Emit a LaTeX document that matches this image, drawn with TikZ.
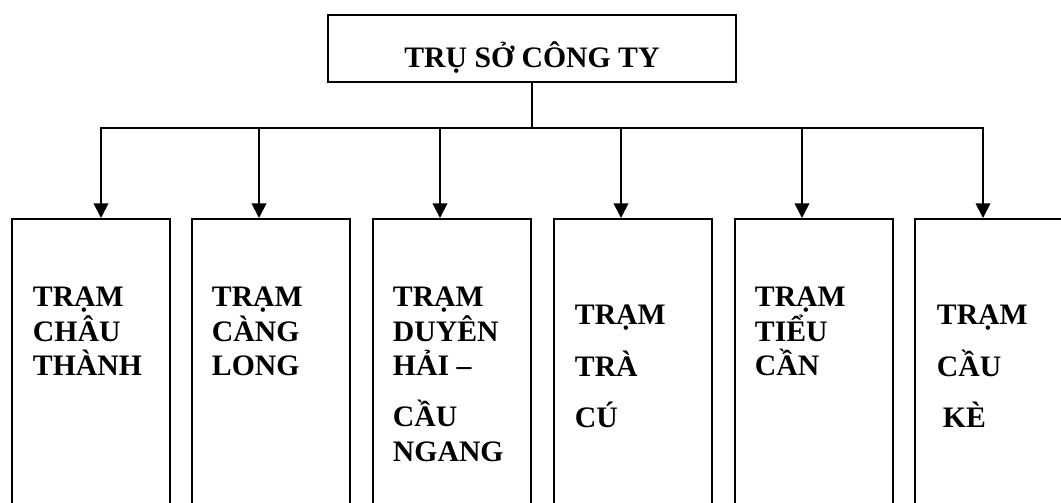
\documentclass[tikz,border=0pt]{standalone}
\usepackage{fontspec}
\setmainfont{Liberation Serif}
\usetikzlibrary{arrows.meta}
\begin{document}
\begin{tikzpicture}[x=0.75pt,y=-0.75pt,
  line width=1.4pt,
  txt/.style={font=\fontsize{22.3pt}{25.9pt}\selectfont\bfseries},
  unit/.style={draw, minimum width=118.5pt, minimum height=232pt, inner sep=0pt, anchor=north west},
  label/.style={txt, align=left, inner sep=0pt, anchor=north west},
  arr/.style={-{Triangle[width=11pt,length=11pt]}}
]
\useasboundingbox (0,0) rectangle (1061,503);
\clip (0,0) rectangle (1061,503);
\fill[white] (0,0) rectangle (1061,503);

\node[draw, txt, minimum width=306pt, text height=39.75pt, text depth=10.5pt,
      inner sep=0pt, anchor=north west] (hq) at (327,14) {TRỤ SỞ CÔNG TY};

\node[unit] (b1) at (11,218) {};
\node[unit] (b2) at (191,218) {};
\node[unit] (b3) at (372,218) {};
\node[unit] (b4) at (553,218) {};
\node[unit] (b5) at (734,218) {};
\node[unit, minimum width=130pt] (b6) at (914,218) {};

\node[label] (l1) at ([shift={(21,68)}]b1.north west) {TRẠM\\CHÂU\\THÀNH};
\node[label] (l2) at ([shift={(20,68)}]b2.north west) {TRẠM\\CÀNG\\LONG};
\node[label] (l3) at ([shift={(20,68)}]b3.north west) {TRẠM\\DUYÊN\\HẢI –\\[12.4pt]CẦU\\NGANG};
\node[label] (l4) at ([shift={(21,86)}]b4.north west) {TRẠM\\[12.75pt]TRÀ\\[12.75pt]CÚ};
\node[label] (l5) at ([shift={(20,68)}]b5.north west) {TRẠM\\TIỂU\\CẦN};
\node[label] (l6) at ([shift={(22,86)}]b6.north west) {TRẠM\\[12.75pt]CẦU\\[12.75pt]\hspace*{4.5pt}KÈ};

\coordinate (t1) at (101,128);
\coordinate (t2) at (259,128);
\coordinate (t3) at (440,128);
\coordinate (t4) at (621,128);
\coordinate (t5) at (802,128);
\coordinate (t6) at (983,128);

\draw (hq.south) -- (hq.south |- t1);
\draw[line cap=rect] (t1) -- (t6);
\foreach \i in {1,...,6}{
  \draw[arr] (t\i) -- (t\i |- b\i.north);
}
\end{tikzpicture}
\end{document}
